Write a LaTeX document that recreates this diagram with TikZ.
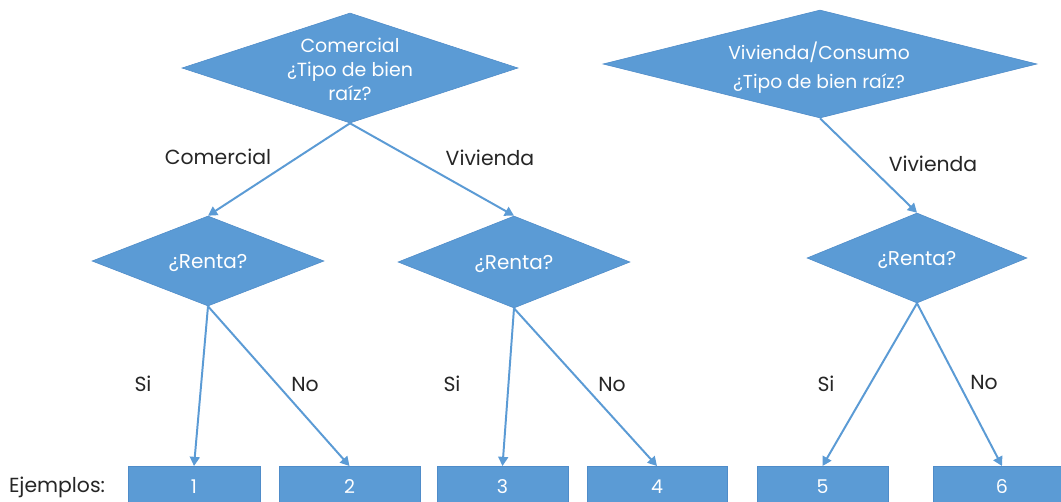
\documentclass[tikz,border=0pt]{standalone}
\usepackage{fontspec}
\setmainfont{Poppins}
\usetikzlibrary{arrows.meta,shapes.geometric}
\definecolor{boxblue}{HTML}{5B9BD5}
\definecolor{edgeblue}{HTML}{4F8CC9}
\definecolor{labelgray}{HTML}{262626}
\begin{document}
\begin{tikzpicture}[x=0.025cm,y=-0.025cm,
  dia/.style={shape=diamond,fill=boxblue,draw=edgeblue,line width=0.4pt,inner sep=0pt},
  diatext/.style={text=white,font=\fontsize{13.5}{17}\selectfont,align=center},
  outbox/.style={shape=rectangle,fill=boxblue,draw=edgeblue,line width=0.5pt,inner sep=0pt,
    anchor=north,minimum height=41*0.025cm,text=white,font=\fontsize{13.5}{15}\selectfont},
  conn/.style={draw=boxblue,line width=1.4pt,-{Triangle[width=7pt,length=6.5pt]}},
  lbl/.style={text=labelgray,font=\fontsize{14.5}{16}\selectfont}
]
\clip (0,0) rectangle (1061,501);
\fill[white] (0,0) rectangle (1061,501);

% top diamonds
\node[dia,minimum width=336*0.025cm,minimum height=110*0.025cm] (tl) at (350,68) {};
\node[diatext] (tltext) at (350,69) {Comercial\\¿Tipo de bien\\raíz?};
\node[dia,minimum width=434*0.025cm,minimum height=108*0.025cm] (tr) at (820,64) {};
\node[diatext,font=\fontsize{13.3}{20.5}\selectfont] (trtext) at (819,68) {Vivienda/Consumo\\¿Tipo de bien raíz?};

% renta diamonds
\node[dia,minimum width=232*0.025cm,minimum height=90*0.025cm] (r1) at (208,261) {};
\node[diatext,font=\fontsize{14.2}{17}\selectfont] (r1text) at (208,263) {¿Renta?};
\node[dia,minimum width=232*0.025cm,minimum height=92*0.025cm] (r2) at (514,262) {};
\node[diatext,font=\fontsize{14.2}{17}\selectfont] (r2text) at (514,264) {¿Renta?};
\node[dia,minimum width=220*0.025cm,minimum height=90*0.025cm] (r3) at (917,258) {};
\node[diatext,font=\fontsize{14.2}{17}\selectfont] (r3text) at (917,260) {¿Renta?};

% boxes
\node[outbox,minimum width=132*0.025cm] (b1) at (194,466) {\raisebox{-4pt}{1}};
\node[outbox,minimum width=141*0.025cm] (b2) at (349.5,466) {\raisebox{-4pt}{2}};
\node[outbox,minimum width=131*0.025cm] (b3) at (502.5,466) {\raisebox{-4pt}{3}};
\node[outbox,minimum width=140*0.025cm] (b4) at (657,466) {\raisebox{-4pt}{4}};
\node[outbox,minimum width=131*0.025cm] (b5) at (822.5,466) {\raisebox{-4pt}{5}};
\node[outbox,minimum width=138*0.025cm] (b6) at (1002,466) {\raisebox{-4pt}{6}};

% connectors
\draw[conn] (tl.south) -- (r1.north);
\draw[conn] (tl.south) -- (r2.north);
\draw[conn] (tr.south) -- (r3.north);
\draw[conn] (r1.south) -- (b1.north);
\draw[conn] (r1.south) -- (b2.north);
\draw[conn] (r2.south) -- (b3.north);
\draw[conn] (r2.south) -- (b4.north);
\draw[conn] (r3.south) -- (b5.north);
\draw[conn] (r3.south) -- (b6.north);

% labels
\node[lbl] (lc) at (218,157) {Comercial};
\node[lbl] (lv1) at (490,158) {Vivienda};
\node[lbl] (lv2) at (933,164) {Vivienda};
\node[lbl] (s1) at (143,384) {Si};
\node[lbl] (n1) at (305,384) {No};
\node[lbl] (s2) at (452,384) {Si};
\node[lbl] (n2) at (612,384) {No};
\node[lbl] (s3) at (826,384) {Si};
\node[lbl] (n3) at (984,382) {No};
\node[lbl] (ej) at (57,487) {Ejemplos:};
\end{tikzpicture}
\end{document}
